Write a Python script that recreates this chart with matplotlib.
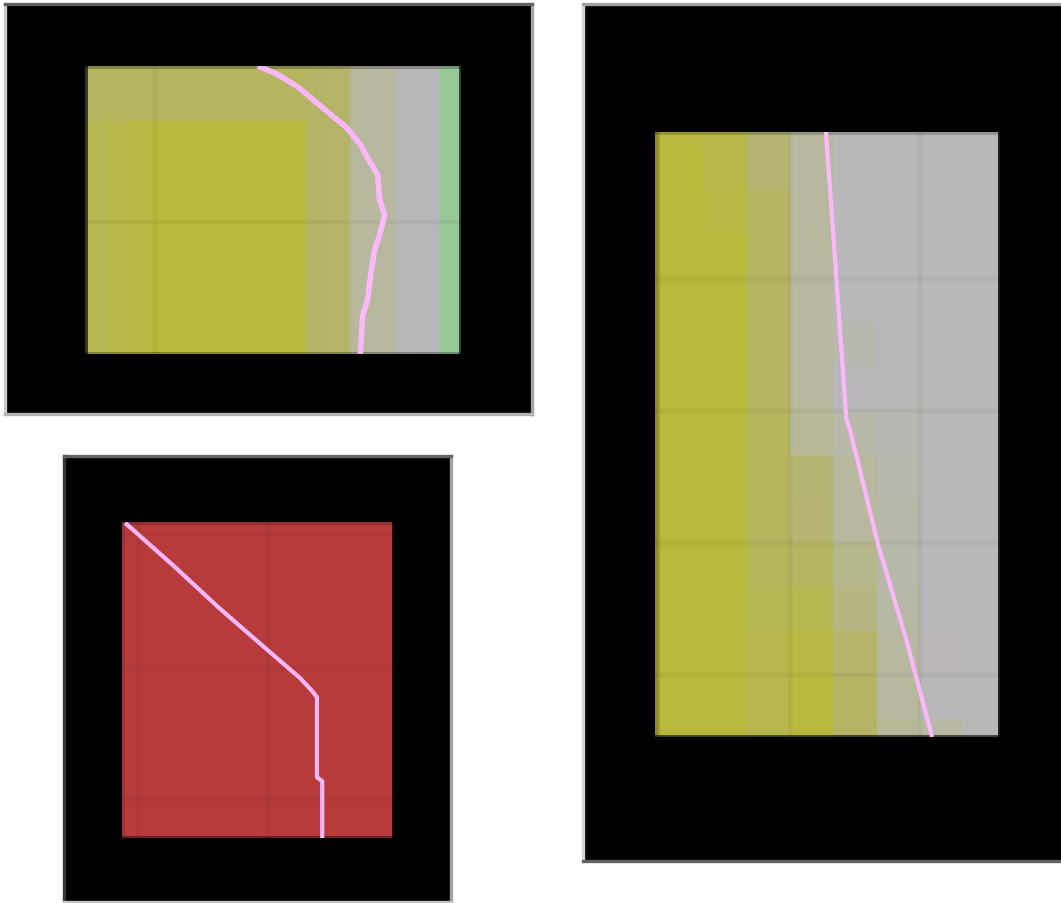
import numpy as np
import matplotlib
matplotlib.use('Agg')
import matplotlib.pyplot as plt
from matplotlib.colors import LinearSegmentedColormap, ListedColormap

W, H = 1061, 904

# ---- data ----
# top-left panel: column profile and a lighter band across the top rows
p1_cols = [0.12, 0.08, 0.04, 0, 0, 0, 0, 0, 0, 0, 0.25, 0.27, 0.5, 0.52, 0.7, 0.72, 1.0]
p1_rows = [0.22, 0.22, 0.22, 0.22, 0.22, 0, 0, 0, 0, 0, 0, 0, 0,
           0, 0, 0, 0, 0, 0, 0, 0, 0, 0, 0, 0, 0]
p1_line_x = [7.82, 8.68, 9.64, 10.55, 11.82, 12.45, 12.82, 13.23, 13.32, 13.55,
             13.32, 13.09, 12.91, 12.77, 12.55, 12.45]
p1_line_y = [0, 0.73, 1.91, 3.45, 5.55, 7.09, 8.45, 9.82, 12.09, 13.45,
             15.27, 16.64, 18.91, 21.18, 22.55, 26.09]

# right panel
p2_vals = [
    [0.03, 0.08, 0.30, 0.50, 0.70, 0.70, 0.70, 0.70],
    [0.00, 0.08, 0.30, 0.50, 0.70, 0.70, 0.70, 0.70],
    [0.00, 0.05, 0.22, 0.50, 0.70, 0.70, 0.70, 0.70],
    [0.00, 0.00, 0.22, 0.50, 0.70, 0.70, 0.70, 0.70],
    [0.00, 0.00, 0.22, 0.50, 0.70, 0.70, 0.70, 0.70],
    [0.00, 0.00, 0.22, 0.52, 0.64, 0.70, 0.70, 0.70],
    [0.00, 0.00, 0.22, 0.50, 0.73, 0.70, 0.70, 0.70],
    [0.00, 0.00, 0.20, 0.48, 0.60, 0.66, 0.70, 0.70],
    [0.00, 0.00, 0.20, 0.32, 0.50, 0.62, 0.70, 0.70],
    [0.00, 0.00, 0.20, 0.30, 0.50, 0.58, 0.70, 0.70],
    [0.00, 0.00, 0.18, 0.22, 0.42, 0.60, 0.72, 0.68],
    [0.00, 0.00, 0.15, 0.12, 0.38, 0.56, 0.75, 0.68],
    [0.00, 0.00, 0.10, 0.05, 0.27, 0.52, 0.78, 0.70],
    [0.00, 0.00, 0.10, 0.02, 0.24, 0.50, 0.70, 0.70],
    [0.00, 0.00, 0.10, 0.02, 0.24, 0.48, 0.55, 0.70],
]
p2_line_x = [3.83, 4.30, 4.39, 5.03, 5.70, 6.28]
p2_line_y = [0.66, 7.18, 7.45, 10.02, 12.25, 14.41]

# bottom-left panel
p3_vals = [[1] * 7 for _ in range(8)]
p3_line_x = [0.07, 0.23, 1.2, 2.18, 3.18, 4.05, 4.32, 4.43, 4.43, 4.55, 4.55]
p3_line_y = [0.02, 0.16, 1.02, 1.93, 2.8, 3.55, 3.84, 3.98, 5.8, 5.89, 7.18]

olive_gray = LinearSegmentedColormap.from_list('olive_gray', [
    (0.0, '#b8b83c'), (0.25, '#b4b466'), (0.5, '#b8b89e'),
    (0.7, '#b8b8b8'), (0.85, '#bcb4bc'), (1.0, '#98c898')])
red = ListedColormap(['#b73b3b'])
PINK = '#fab8fa'

fig = plt.figure(figsize=(W / 100, H / 100), dpi=100)
fig.patch.set_facecolor('white')


def px_axes(l, t, r, b):
    return fig.add_axes([l / W, 1 - b / H, (r - l) / W, (b - t) / H])


def outer(l, t, r, b, cols):
    ax = px_axes(l, t, r, b)
    ax.set_facecolor('black')
    ax.set_xticks([])
    ax.set_yticks([])
    for side, c in zip(['top', 'left', 'right', 'bottom'], cols):
        ax.spines[side].set_color(c)
        ax.spines[side].set_linewidth(2.4)
    return ax


def inner(l, t, r, b, Z, cmap, xlim, ylim, gx, gy, lx, ly, lw, spine_alpha, bg):
    ax = px_axes(l, t, r, b)
    ax.set_facecolor(bg)
    ax.pcolormesh(np.asarray(Z, float), cmap=cmap, vmin=0, vmax=1)
    ax.set_xlim(*xlim)
    ax.set_ylim(*ylim)
    ax.set_xticks(gx)
    ax.set_yticks(gy)
    ax.tick_params(length=0, labelbottom=False, labelleft=False)
    ax.grid(True, color='black', alpha=0.035, lw=3.2)
    ax.set_axisbelow(False)
    ax.plot(lx, ly, color=PINK, lw=lw, solid_capstyle='butt', zorder=5)
    for side, a in zip(['left', 'top', 'right', 'bottom'], spine_alpha):
        ax.spines[side].set_color((0, 0, 0, a))
        ax.spines[side].set_linewidth(3.5)
    return ax


# frames
outer(5, 5, 532, 415, ['#616161', '#cccccc', '#a6a6a6', '#b3b3b3'])
outer(583, 5, 1066, 862, ['#a3a3a3', '#d4d4d4', '#a3a3a3', '#626262'])
outer(64, 457, 451, 903, ['#646464', '#363636', '#a3a3a3', '#c4c4c4'])

# heatmaps
Z1 = np.maximum(np.array(p1_cols)[None, :], np.array(p1_rows)[:, None])
inner(85, 67, 461, 355, Z1, olive_gray, (0, len(p1_cols)), (len(p1_rows), 0),
      [3.18], [14.1], p1_line_x, p1_line_y, 4.0, [0.7, 0.25, 0.7, 0.3], '#b4b454')
inner(655, 133, 1000, 738, p2_vals, olive_gray, (-0.12, 7.85), (14.41, 0.66),
      [3, 6], [4, 7, 10, 13], p2_line_x, p2_line_y, 3.0, [0.13, 0.2, 0.85, 0.65], '#a0a032')
inner(122, 523, 394, 839, p3_vals, red, (0, 6.18), (7.18, 0),
      [0.36, 3.32], [0.27, 3.34, 6.3], p3_line_x, p3_line_y, 3.0, [0.12, 0.2, 0.85, 0.45], '#b73b3b')

fig.savefig('out.png', dpi=100, facecolor='white')
